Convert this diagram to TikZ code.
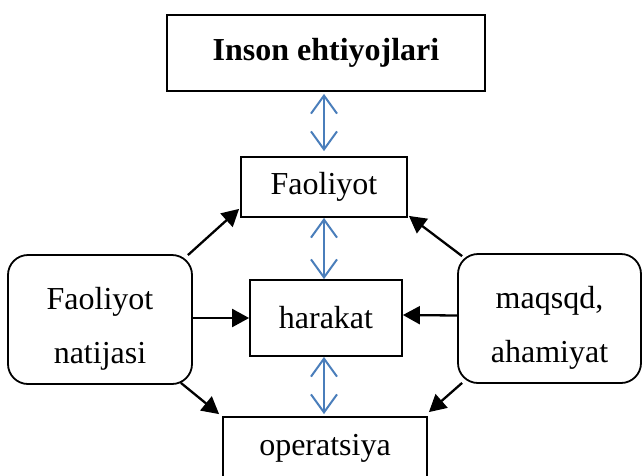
\documentclass[tikz,border=0pt]{standalone}
\usepackage{fontspec}
\setmainfont{Liberation Serif}
\usetikzlibrary{arrows.meta,calc}
\definecolor{linkblue}{RGB}{74,126,187}
\tikzset{
  box/.style={draw=black, line width=1.8pt, rectangle, inner sep=0pt, align=center,
              font=\fontsize{32}{54}\selectfont},
  roundbox/.style={box, rounded corners=20pt},
  link/.style={draw=linkblue, line width=2pt,
               {Straight Barb[length=18pt,width=26pt,line width=2pt]}-{Straight Barb[length=18pt,width=26pt,line width=2pt]}},
  push/.style={draw=black, line width=2.3pt, -{Triangle[length=17pt,width=18pt]}}
}
\begin{document}
\begin{tikzpicture}[x=1pt,y=-1pt]
  \useasboundingbox (0,0) rectangle (643,475);
  \clip (0,0) rectangle (643,475);

  % boxes
  \node[box, minimum width=318pt, minimum height=76pt, font=\fontsize{32}{54}\selectfont\bfseries] (top) at (326,53) {Inson ehtiyojlari};
  \node[box, minimum width=166pt, minimum height=60pt] (fa) at (324,187) {Faoliyot};
  \node[box, minimum width=152pt, minimum height=76pt] (hr) at (326,318) {harakat};
  \node[box, minimum width=204pt, minimum height=62pt] (op) at (325,448) {operatsiya};
  \node[roundbox, minimum width=184pt, minimum height=129pt] (L) at (100,319.5) {\rule{0pt}{40pt}Faoliyot\\natijasi};
  \node[roundbox, minimum width=183pt, minimum height=129pt] (R) at (549.5,318.5) {\rule{0pt}{40pt}maqsqd,\\ahamiyat};

  % two-way links on the central column
  \draw[link, shorten <=2pt, shorten >=5pt] (fa.north |- top.south) -- (fa.north);
  \draw[link] (fa.south) -- (fa.south |- hr.north);
  \draw[link, shorten >=2pt] (fa.south |- hr.south) -- (fa.south |- op.north);

  % inputs from the side boxes
  \draw[push] (L.east |- hr.west) -- (hr.west);
  \draw[push] ($(R.west)+(0,-3)$) -- ($(hr.east)+(0,-3)$);
  \draw[push] ($(L.north east)+(-5,1)$) -- ($(fa.south west)+(-1,-9)$);
  \draw[push] ($(R.north west)+(5,3)$) -- ($(fa.south east)+(1,-2)$);
  \draw[push] ($(L.south east)+(-12,-2)$) -- ($(op.north west)+(-3,-2)$);
  \draw[push] ($(R.south west)+(5,-1)$) -- ($(op.north east)+(1,-4)$);
\end{tikzpicture}
\end{document}
